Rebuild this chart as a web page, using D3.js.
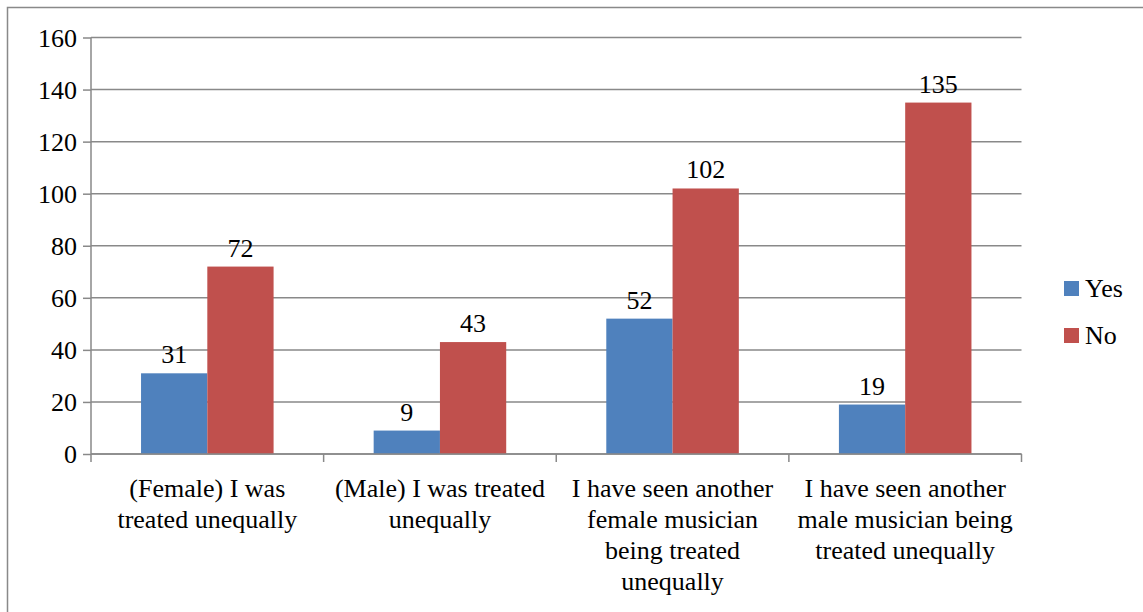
<!DOCTYPE html>
<html><head><meta charset="utf-8">
<script src="https://cdn.jsdelivr.net/npm/d3@7"></script>
</head><body style="margin:0;font-family:'Times New Roman',serif"><svg id="c" width="1143" height="612" style="font-family:'Times New Roman',serif"></svg>
<script>
const categories = ["(Female) I was treated unequally","(Male) I was treated unequally","I have seen another female musician being treated unequally","I have seen another male musician being treated unequally"];
const categoryLines = [["(Female) I was","treated unequally"],["(Male) I was treated","unequally"],["I have seen another","female musician","being treated","unequally"],["I have seen another","male musician being","treated unequally"]];
const seriesNames = ["Yes","No"];
const yesValues = [31,9,52,19];
const noValues = [72,43,102,135];
const yTicks = [0,20,40,60,80,100,120,140,160];
const colors = ["#4F81BD","#C0504D"];

const FONT = "Times New Roman";
const svg = d3.select("#c");
const L=91, R=1021.5, T=37.5, B=454;
const grid="#898989";
svg.append("rect").attr("x",7.5).attr("y",7.5).attr("width",1200).attr("height",700).attr("fill","none").attr("stroke",grid).attr("stroke-width",1.5);

const x = d3.scaleBand().domain(categories).range([L,R]).padding(0);
const xi = d3.scaleBand().domain(seriesNames).range([0,x.bandwidth()]).paddingInner(0).paddingOuter(0.755);
const y = d3.scaleLinear().domain([0,160]).range([B,T]);

svg.append("g").selectAll("line").data(yTicks).join("line")
 .attr("x1",L).attr("x2",R).attr("y1",d=>y(d)).attr("y2",d=>y(d)).attr("stroke",grid).attr("stroke-width",1.5);

const yAxis = d3.axisLeft(y).tickValues(yTicks).tickSize(8).tickFormat("");
const ya = svg.append("g").attr("transform",`translate(${L},0)`).call(yAxis);
ya.select(".domain").attr("stroke",grid).attr("stroke-width",1.5).attr("d",`M0,${T}V${B}`);
ya.selectAll(".tick line").attr("stroke",grid).attr("stroke-width",1.5);
ya.selectAll(".tick text").remove();

function txt(xp,yp,s,anchor){
  return svg.append("text").attr("x",xp).attr("y",yp).attr("text-anchor",anchor)
    .attr("font-family",FONT).style("font-family","'Times New Roman', serif")
    .attr("font-size","26px").attr("fill","#000").text(s);
}
yTicks.forEach(t=>txt(L-14,y(t)+9,String(t),"end"));

const data = categories.map((c,i)=>({c,vals:[yesValues[i],noValues[i]]}));
data.forEach(d=>{
  d.vals.forEach((v,j)=>{
    const bx = x(d.c)+xi(seriesNames[j]);
    svg.append("rect").attr("x",bx).attr("y",y(v)).attr("width",xi.bandwidth()).attr("height",B-y(v)).attr("fill",colors[j]);
    txt(bx+xi.bandwidth()/2,y(v)-10,String(v),"middle");
  });
});

svg.append("line").attr("x1",L).attr("x2",R).attr("y1",B).attr("y2",B).attr("stroke",grid).attr("stroke-width",1.5);
const bounds = categories.map(c=>x(c)).concat([R]);
bounds.forEach(d=>svg.append("line").attr("x1",d).attr("x2",d).attr("y1",B).attr("y2",B+8).attr("stroke",grid).attr("stroke-width",1.5));
categories.forEach((c,i)=>{
  categoryLines[i].forEach((ln,k)=>txt(x(c)+x.bandwidth()/2,497+31*k,ln,"middle"));
});

seriesNames.forEach((s,i)=>{
  const ly = 281 + i*47;
  svg.append("rect").attr("x",1064).attr("y",ly).attr("width",15).attr("height",15).attr("fill",colors[i]);
  txt(1085,ly+16,s,"start");
});
</script></body></html>
